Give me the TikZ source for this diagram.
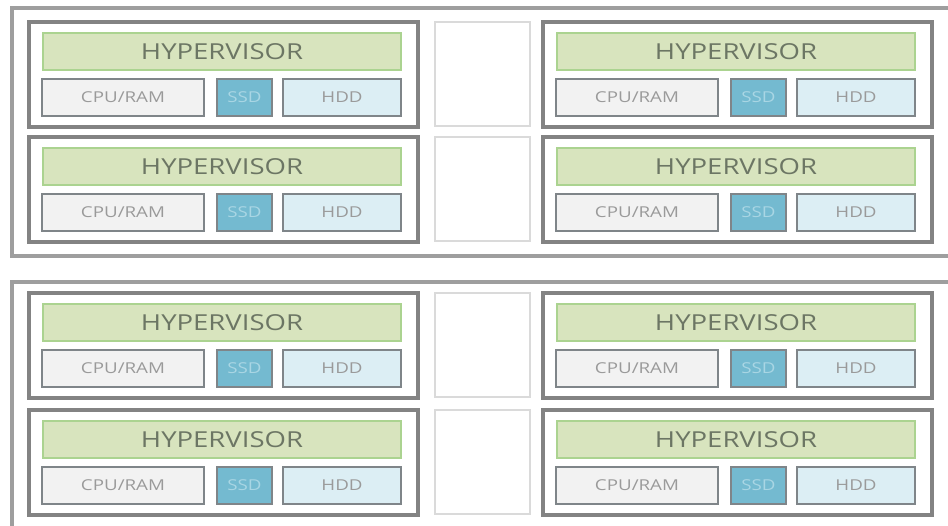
\documentclass[tikz,border=0pt]{standalone}
\usepackage{fontspec}
\setmainfont{Open Sans}[FakeStretch=1.25]
\usetikzlibrary{positioning}

\definecolor{chassisgray}{HTML}{9E9E9E}
\definecolor{servergray}{HTML}{838383}
\definecolor{slotgray}{HTML}{DADADA}
\definecolor{partgray}{HTML}{7F8589}
\definecolor{textgray}{HTML}{9A9A9A}
\definecolor{hvfill}{HTML}{D8E4BE}
\definecolor{hvline}{HTML}{ABD390}
\definecolor{hvtext}{HTML}{6C7664}
\definecolor{cpufill}{HTML}{F2F2F2}
\definecolor{ssdfill}{HTML}{74BAD0}
\definecolor{ssdtext}{HTML}{A9D6E4}
\definecolor{hddfill}{HTML}{DCEEF4}

\tikzset{
	chassis/.style={draw=chassisgray, line width=3.5pt},
	server/.style={draw=servergray, line width=3.5pt, fill=white, anchor=north west,
		minimum width=389pt, minimum height=105pt, inner sep=0pt, outer sep=0pt},
	slot/.style={draw=slotgray, line width=2pt, anchor=north west,
		minimum width=95pt, minimum height=104pt, inner sep=0pt, outer sep=0pt},
	part/.style={draw=partgray, line width=1.2pt, minimum height=37pt,
		inner sep=0pt, outer sep=0pt, text=textgray, font=\fontsize{15}{15}\selectfont},
	hypervisor/.style={part, draw=hvline, fill=hvfill, minimum width=358pt,
		text=hvtext, font=\fontsize{22}{22}\selectfont},
	cpu/.style={part, fill=cpufill, minimum width=162pt},
	ssd/.style={part, fill=ssdfill, minimum width=55pt, text=ssdtext},
	hdd/.style={part, fill=hddfill, minimum width=118pt},
}

\begin{document}
\begin{tikzpicture}[x=1pt, y=-1pt]
		\useasboundingbox (0,0) rectangle (948,526);
		% the two chassis, cut off by the right and bottom edges
		\draw [chassis] (12,8) rectangle (960,256);
		\draw [chassis] (12,282) rectangle (960,540);
		\foreach \r/\y in {1/22, 2/137, 3/293, 4/410} {
			\node [slot] (slot-\r) at (435,\y) {};
			\foreach \c/\x in {l/29, r/543} {
				\node [server] (srv-\c\r) at (\x,\y) {};
				\node [hypervisor, below right=11pt and 14pt of srv-\c\r.north west] (hv-\c\r) {HYPERVISOR};
				\node [cpu, below right=9pt and -1pt of hv-\c\r.south west] (cpu-\c\r) {CPU/RAM};
				\node [ssd, right=13pt of cpu-\c\r] (ssd-\c\r) {SSD};
				\node [hdd, right=11pt of ssd-\c\r] (hdd-\c\r) {HDD};
			};
		};

	\end{tikzpicture}
\end{document}
